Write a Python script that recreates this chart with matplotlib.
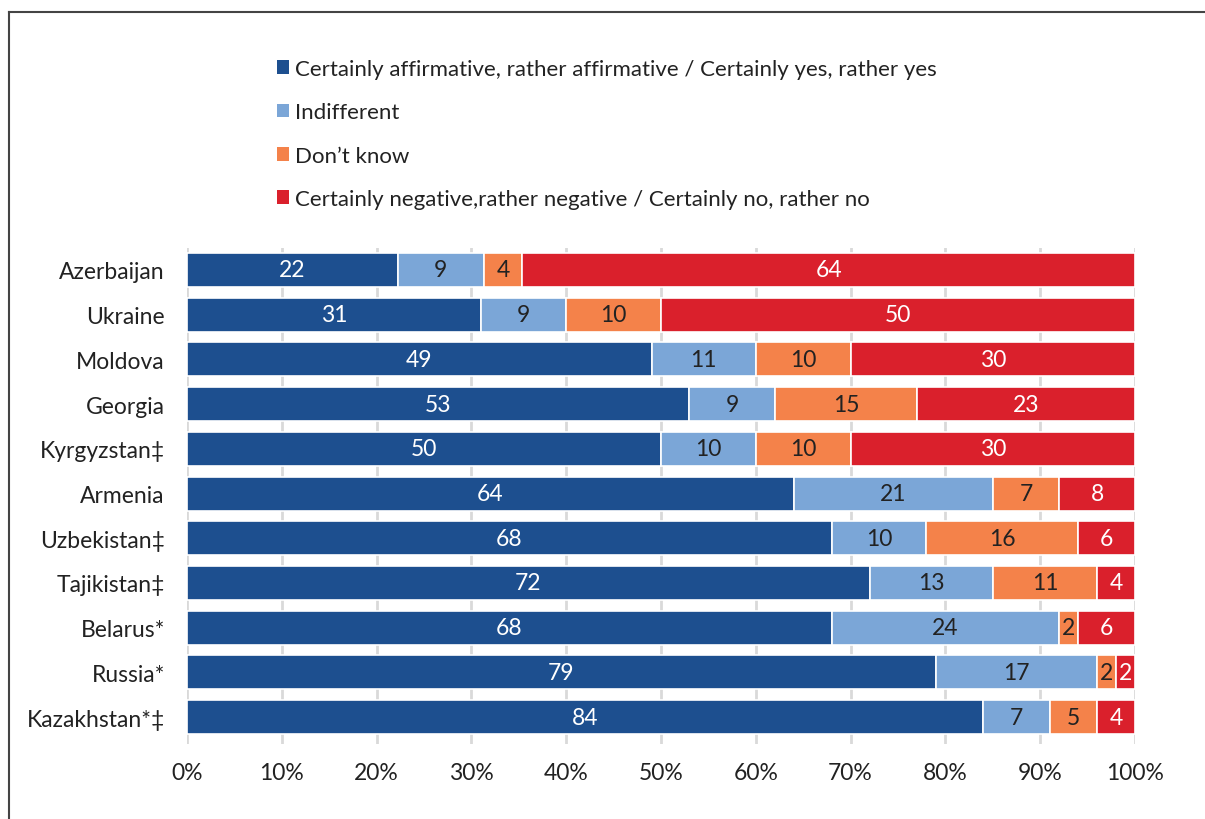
import matplotlib
matplotlib.use("Agg")
import matplotlib.pyplot as plt
from matplotlib.patches import Patch
from matplotlib.lines import Line2D
import numpy as np

countries = ["Azerbaijan", "Ukraine", "Moldova", "Georgia", "Kyrgyzstan‡", "Armenia",
             "Uzbekistan‡", "Tajikistan‡", "Belarus*", "Russia*", "Kazakhstan*‡"]
affirmative = [22, 31, 49, 53, 50, 64, 68, 72, 68, 79, 84]
indifferent = [9, 9, 11, 9, 10, 21, 10, 13, 24, 17, 7]
dont_know = [4, 10, 10, 15, 10, 7, 16, 11, 2, 2, 5]
negative = [64, 50, 30, 23, 30, 8, 6, 4, 6, 2, 4]

series_names = ["Certainly affirmative, rather affirmative / Certainly yes, rather yes",
                "Indifferent",
                "Don’t know",
                "Certainly negative,rather negative / Certainly no, rather no"]
colors = ["#1d4f8f", "#7ba6d7", "#f4824a", "#da202c"]
text_colors = ["white", "#222222", "#222222", "white"]

plt.rcParams["font.family"] = ["Lato", "DejaVu Sans"]

fig = plt.figure(figsize=(12.05, 8.2), dpi=100)
ax = fig.add_axes([187 / 1205, 1 - 745 / 820, (1135 - 187) / 1205, (745 - 249) / 820])

data = np.array([affirmative, indifferent, dont_know, negative], dtype=float)
shares = data / data.sum(axis=0) * 100
y = np.arange(len(countries))
left = np.zeros(len(countries))
for vals, raw, col, tc in zip(shares, data, colors, text_colors):
    ax.barh(y, vals, left=left, height=0.76, color=col, edgecolor="white", linewidth=1.2, zorder=3)
    for yi, l, v, r in zip(y, left, vals, raw):
        ax.text(l + v / 2, yi, f"{int(r)}", ha="center", va="center", color=tc, fontsize=16.5, zorder=4)
    left += vals

ax.set_xlim(0, 100)
ax.set_ylim(10.6, -0.49)
ax.set_yticks(y)
ax.set_yticklabels(countries, fontsize=16.5, color="#222222")
ax.set_xticks(np.arange(0, 101, 10))
ax.set_xticklabels([f"{v}%" for v in range(0, 101, 10)], fontsize=16.5, color="#222222")
ax.tick_params(length=0, pad=16, axis="y")
ax.tick_params(length=0, pad=13, axis="x")
ax.grid(axis="x", color="#d9d9d9", linewidth=2, zorder=0)
for s in ax.spines.values():
    s.set_visible(False)

handles = [Patch(facecolor=c, edgecolor="none") for c in colors]
fig.legend(handles, series_names, loc="upper left", bbox_to_anchor=(257 / 1205, 1 - 40 / 820),
           frameon=False, fontsize=16, handlelength=0.55, handleheight=0.55, handletextpad=0.25,
           labelspacing=1.05, labelcolor="#222222")

# outer frame of the figure box
fig.add_artist(Line2D([9 / 1205, 9 / 1205], [0, 1 - 13 / 820], color="#444444", linewidth=1.5))
fig.add_artist(Line2D([9 / 1205, 1], [1 - 13 / 820, 1 - 13 / 820], color="#444444", linewidth=1.5))

fig.savefig("out.png", dpi=100)
